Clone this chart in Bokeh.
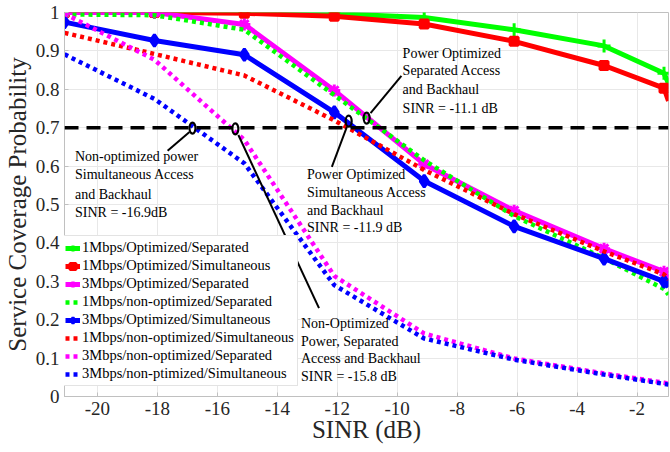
from bokeh.plotting import figure
from bokeh.models import FixedTicker, Legend, LegendItem, Span, Range1d
from bokeh.core.properties import value
from bokeh.embed import file_html
from bokeh.resources import INLINE

# ---------------- data ----------------
SINR = [-21.1, -18.1, -15.1, -12.1, -9.1, -6.1, -3.1, -1.1, -0.95]
N_MARK = 8  # markers drawn at the first 8 samples

opt_sep_1M = [1.0, 1.0, 1.0, 0.997, 0.987, 0.955, 0.913, 0.842, 0.815]
opt_sim_1M = [1.0, 1.0, 0.998, 0.99, 0.97, 0.925, 0.862, 0.803, 0.77]
opt_sep_3M = [1.0, 1.0, 0.969, 0.797, 0.605, 0.484, 0.385, 0.325, 0.305]
nonopt_sep_1M = [0.995, 0.993, 0.955, 0.785, 0.615, 0.47, 0.36, 0.28, 0.265]
opt_sim_3M = [0.975, 0.927, 0.89, 0.74, 0.561, 0.443, 0.359, 0.30, 0.285]
nonopt_sim_1M = [0.947, 0.892, 0.836, 0.719, 0.59, 0.475, 0.378, 0.318, 0.305]
nonopt_sep_3M = [0.997, 0.877, 0.668, 0.314, 0.164, 0.099, 0.06, 0.036, 0.033]
nonopt_sim_3M = [0.891, 0.775, 0.607, 0.29, 0.151, 0.096, 0.057, 0.033, 0.031]

labels = [
    "1Mbps/Optimized/Separated",
    "1Mbps/Optimized/Simultaneous",
    "3Mbps/Optimized/Separated",
    "1Mbps/non-optimized/Separated",
    "3Mbps/Optimized/Simultaneous",
    "1Mbps/non-optimized/Simultaneous",
    "3Mbps/non-optimized/Separated",
    "3Mbps/non-ptimized/Simultaneous",
]

THRESHOLD = 0.7

X_TICKS = [-20, -18, -16, -14, -12, -10, -8, -6, -4, -2]
X_TICK_LABELS = ["-20", "-18", "-16", "-14", "-12", "-10", "-8", "-6", "-4", "-2"]
Y_TICKS = [0, 0.1, 0.2, 0.3, 0.4, 0.5, 0.6, 0.7, 0.8, 0.9, 1.0]
Y_TICK_LABELS = ["0", "0.1", "0.2", "0.3", "0.4", "0.5", "0.6", "0.7", "0.8", "0.9", "1"]

# annotations (data coordinates)
ELL_X = [-16.83, -15.40, -11.62, -11.02]
ELL_Y = [0.699, 0.697, 0.717, 0.725]
LEAD_X0 = [-16.93, -15.30, -11.68, -10.89]
LEAD_Y0 = [0.689, 0.681, 0.702, 0.738]
LEAD_X1 = [-17.66, -12.61, -12.18, -9.86]
LEAD_Y1 = [0.640, 0.230, 0.598, 0.835]

ANN_TEXT = [
    ["Non-optimized power", "Simultaneous Access", "and Backhaul", "SINR = -16.9dB"],
    ["Non-Optimized", "Power, Separated", "Access and Backhaul", "SINR = -15.8 dB"],
    ["Power Optimized", "Simultaneous Access", "and Backhaul", "SINR = -11.9 dB"],
    ["Power Optimized", "Separated Access", "and Backhaul", "SINR = -11.1 dB"],
]
ANN_X = [-20.75, -13.21, -13.01, -9.82]
ANN_Y = [
    [0.624, 0.577, 0.527, 0.480],
    [0.190, 0.1445, 0.0977, 0.0508],
    [0.579, 0.530, 0.485, 0.439],
    [0.894, 0.848, 0.800, 0.751],
]

# ---------------- figure ----------------
FONT = "Liberation Serif"
p = figure(width=670, height=452, output_backend="svg", toolbar_location=None,
           x_range=Range1d(-21.1, -0.95), y_range=Range1d(0, 1),
           min_border_left=61, min_border_right=2, min_border_top=12, min_border_bottom=56)
p.background_fill_color = "white"
p.border_fill_color = "white"
p.outline_line_color = "#c0c0c0"

p.xaxis.ticker = FixedTicker(ticks=X_TICKS)
p.yaxis.ticker = FixedTicker(ticks=Y_TICKS)
p.xaxis.major_label_overrides = dict(zip(X_TICKS, X_TICK_LABELS))
p.yaxis.major_label_overrides = {t: l for t, l in zip(Y_TICKS, Y_TICK_LABELS)}
p.xaxis.axis_label = "SINR (dB)"
p.yaxis.axis_label = "Service Coverage Probability"
for ax in (p.xaxis, p.yaxis):
    ax.axis_label_text_font = FONT
    ax.axis_label_text_font_size = "25px"
    ax.axis_label_text_font_style = "normal"
    ax.axis_label_text_color = "#262626"
    ax.major_label_text_font = FONT
    ax.major_label_text_font_size = "19px"
    ax.major_label_text_color = "#262626"
    ax.axis_line_color = "#c0c0c0"
    ax.major_tick_line_color = "#c0c0c0"
    ax.major_tick_out = 0
    ax.major_tick_in = 4
    ax.minor_tick_line_color = None
p.yaxis.major_label_standoff = 5
p.yaxis.axis_label_standoff = 2
p.xaxis.major_label_standoff = 5
p.xaxis.axis_label_standoff = -2

p.xgrid.ticker = FixedTicker(ticks=X_TICKS)
p.ygrid.ticker = FixedTicker(ticks=Y_TICKS)
p.grid.grid_line_color = "#e8e8e8"
p.grid.grid_line_width = 1

# threshold line
p.add_layout(Span(location=THRESHOLD, dimension="width", line_color="black",
                  line_width=3.5, line_dash="14 8"))

GREEN, RED, MAGENTA, BLUE = "#00ff00", "#ff0000", "#ff00ff", "#0000ff"
items = []

def solid(ys, color, marker, size, label):
    r1 = p.line(SINR, ys, line_color=color, line_width=5)
    r2 = p.scatter(SINR[:N_MARK], ys[:N_MARK], marker=marker, size=size,
                   line_color=color, fill_color=color, line_width=3)
    items.append(LegendItem(label=label, renderers=[r1, r2]))

def dotted(ys, color, label):
    r = p.line(SINR, ys, line_color=color, line_width=4.5, line_dash="4 4")
    items.append(LegendItem(label=label, renderers=[r]))

solid(opt_sep_1M, GREEN, "cross", 13, labels[0])
solid(opt_sim_1M, RED, "square", 8, labels[1])
solid(opt_sep_3M, MAGENTA, "asterisk", 12, labels[2])
dotted(nonopt_sep_1M, GREEN, labels[3])
solid(opt_sim_3M, BLUE, "diamond", 12, labels[4])
dotted(nonopt_sim_1M, RED, labels[5])
dotted(nonopt_sep_3M, MAGENTA, labels[6])
dotted(nonopt_sim_3M, BLUE, labels[7])

# annotations
p.segment(LEAD_X0, LEAD_Y0, LEAD_X1, LEAD_Y1, line_color="black", line_width=2)
p.ellipse(ELL_X, ELL_Y, width=6, height=11, width_units="screen", height_units="screen",
          fill_alpha=0, line_color="black", line_width=2.2)
for tx, ty_list, lines in zip(ANN_X, ANN_Y, ANN_TEXT):
    p.text(x=[tx] * len(lines), y=ty_list, text=lines, text_font=value(FONT),
           text_font_size="14px", text_baseline="middle", text_align="left",
           text_color="black")

legend = Legend(items=items, location=(-3, 10), margin=0, padding=3, spacing=1,
                glyph_width=15, glyph_height=16, label_height=16, label_standoff=2,
                label_text_font=FONT, label_text_font_size="14.5px",
                label_text_color="black", border_line_color="#c8c8c8",
                background_fill_color="white", background_fill_alpha=1)
p.add_layout(legend)

open("out.html", "w").write(file_html(p, INLINE))
